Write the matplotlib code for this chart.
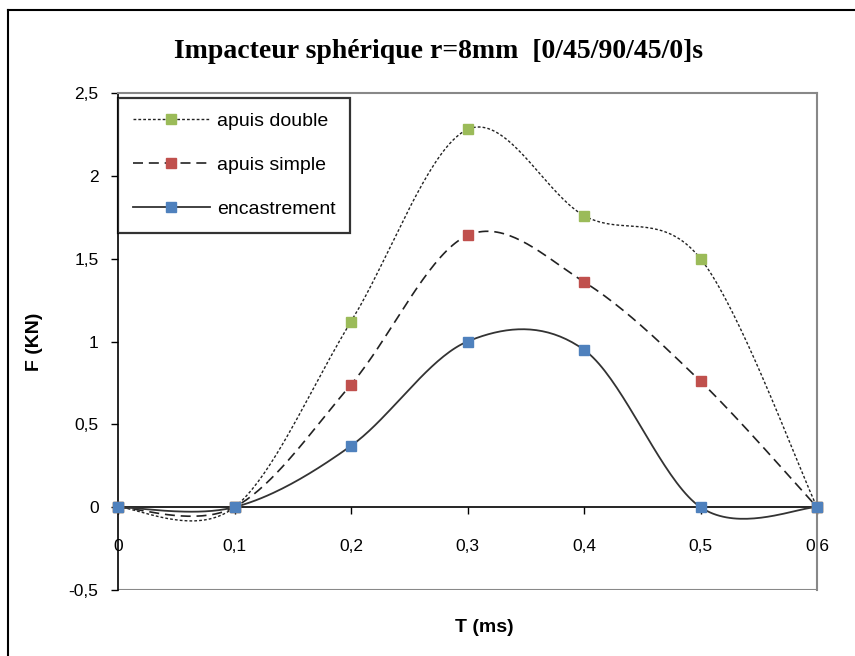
import numpy as np
import matplotlib
matplotlib.use("Agg")
import matplotlib.pyplot as plt
from matplotlib.lines import Line2D

T = [0.0, 0.1, 0.2, 0.3, 0.4, 0.5, 0.6]
apuis_double = [0.0, 0.0, 1.12, 2.28, 1.76, 1.50, 0.0]
apuis_simple = [0.0, 0.0, 0.74, 1.64, 1.36, 0.76, 0.0]
encastrement = [0.0, 0.0, 0.37, 1.00, 0.95, 0.0, 0.0]
labels = ["apuis double", "apuis simple", "encastrement"]
xticks = [0, 0.1, 0.2, 0.3, 0.4, 0.5, 0.6]
yticks = [-0.5, 0, 0.5, 1, 1.5, 2, 2.5]

W, H = 855, 656
fig = plt.figure(figsize=(W / 100, H / 100), dpi=100)
L, R, B, Tp = 118, 817, 590, 93
ax = fig.add_axes([L / W, 1 - B / H, (R - L) / W, (B - Tp) / H])
ax.set_xlim(0, 0.6)
ax.set_ylim(-0.5, 2.5)

sx = (R - L) / 0.6
sy = (B - Tp) / 3.0


def excel_smooth(xs, ys, n=40):
    P = np.column_stack([np.array(xs) * sx, np.array(ys) * sy])
    out = []
    m = len(P)
    for i in range(m - 1):
        p0 = P[i - 1] if i > 0 else P[i]
        p1 = P[i]
        p2 = P[i + 1]
        p3 = P[i + 2] if i + 2 < m else P[i + 1]
        c1 = p1 + (p2 - p0) / 6.0
        c2 = p2 - (p3 - p1) / 6.0
        t = np.linspace(0, 1, n)[:, None]
        seg = ((1 - t) ** 3) * p1 + 3 * ((1 - t) ** 2) * t * c1 + 3 * (1 - t) * t ** 2 * c2 + t ** 3 * p2
        out.append(seg if i == 0 else seg[1:])
    S = np.vstack(out)
    return S[:, 0] / sx, S[:, 1] / sy


series = [
    (apuis_double, "#9BBB59", (0, (2.0, 1.5)), 1.0, "#222222"),
    (apuis_simple, "#C0504D", (0, (6, 3.5)), 1.2, "#222222"),
    (encastrement, "#4F81BD", "-", 1.3, "#333333"),
]

handles = []
for (vals, mc, ls, lw, lc), lab in zip(series, labels):
    xs, ys = excel_smooth(T, vals)
    ax.plot(xs, ys, color=lc, linestyle=ls, linewidth=lw, zorder=3)
    ax.plot(T, vals, linestyle="none", marker="s", markersize=7.5,
            markerfacecolor=mc, markeredgecolor=mc, zorder=4, clip_on=False)
    handles.append(Line2D([0], [0], color=lc, linestyle=ls, linewidth=lw,
                          marker="s", markersize=7.5, markerfacecolor=mc,
                          markeredgecolor=mc))

# frame
for s in ["top", "right"]:
    ax.spines[s].set_color("#888888")
    ax.spines[s].set_linewidth(1.5)
ax.spines["left"].set_color("black")
ax.spines["left"].set_linewidth(1.2)
ax.spines["bottom"].set_position(("data", 0))
ax.spines["bottom"].set_color("black")
ax.spines["bottom"].set_linewidth(1.2)
ax.axhline(-0.5, color="#888888", linewidth=1.5, zorder=1)

ax.set_xticks(xticks)
ax.set_xticklabels([f"{v:g}".replace(".", ",") for v in xticks])
ax.set_yticks(yticks)
ax.set_yticklabels([f"{v:g}".replace(".", ",") for v in yticks])
ax.tick_params(axis="x", direction="out", length=5, width=1, pad=18,
               labelsize=12.5, colors="black")
ax.tick_params(axis="y", direction="out", length=5, width=1, pad=9,
               labelsize=12.5)
for lbl in ax.get_xticklabels() + ax.get_yticklabels():
    lbl.set_fontfamily("Liberation Sans")

leg = ax.legend(handles, labels, loc="upper left",
                bbox_to_anchor=(0.0, 1 - 5 / (B - Tp)), borderaxespad=0,
                frameon=True, fancybox=False, handlelength=4.0,
                borderpad=0.75, labelspacing=1.35, handletextpad=0.35,
                prop={"family": "Liberation Sans", "size": 14})
leg.get_frame().set_edgecolor("black")
leg.get_frame().set_linewidth(1.6)

fig.text(438 / W, 1 - 52 / H, "Impacteur sphérique r=8mm  [0/45/90/45/0]s",
         ha="center", va="center", fontsize=20, fontweight="bold",
         family="Liberation Serif")
fig.text(484 / W, 1 - 628 / H, "T (ms)", ha="center", va="center",
         fontsize=14, fontweight="bold", family="Liberation Sans")
fig.text(34 / W, 1 - 342 / H, "F (KN)", ha="center", va="center",
         fontsize=14, fontweight="bold", family="Liberation Sans", rotation=90)

# outer chart border (left and top only visible)
fig.add_artist(Line2D([8 / W, 8 / W], [0, 1 - 10 / H], color="black", linewidth=1.5,
                      transform=fig.transFigure))
fig.add_artist(Line2D([8 / W, 1], [1 - 10 / H, 1 - 10 / H], color="black", linewidth=1.5,
                      transform=fig.transFigure))

fig.savefig("out.png", dpi=100)
